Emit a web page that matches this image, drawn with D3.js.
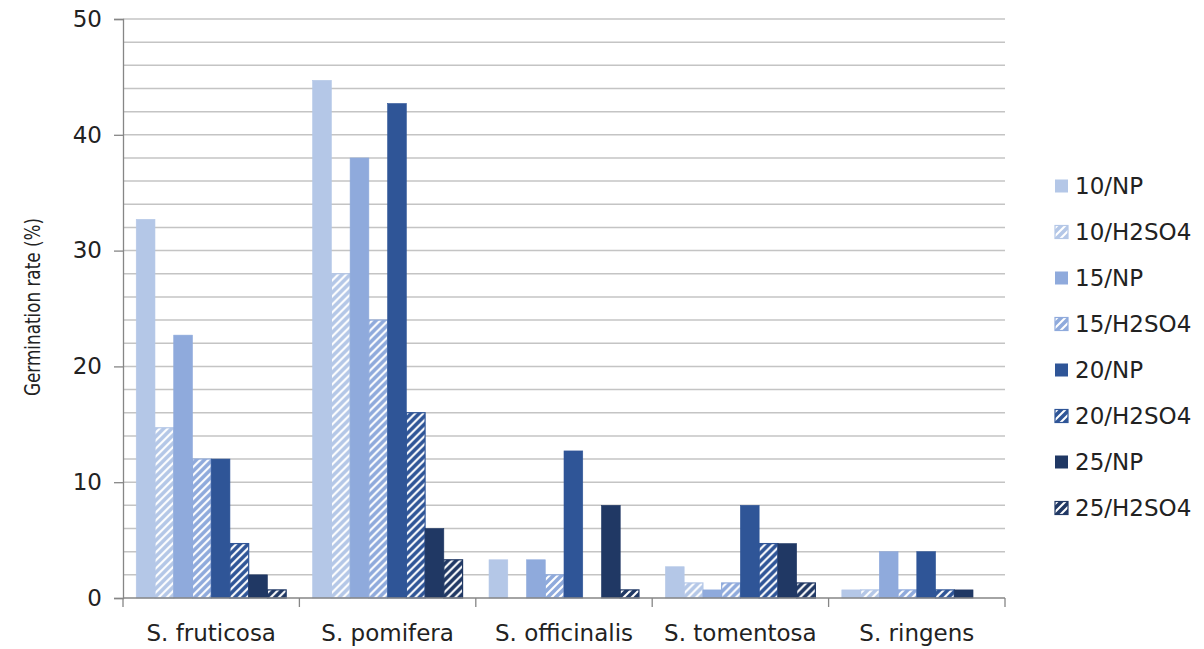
<!DOCTYPE html>
<html>
<head>
<meta charset="utf-8">
<script src="https://cdn.jsdelivr.net/npm/d3@7"></script>
<style>
  html, body { margin: 0; padding: 0; background: #fff; }
  svg { display: block; font-family: "DejaVu Sans", sans-serif; }
</style>
</head>
<body>
<svg id="chart" width="1204" height="649"></svg>
<script>
// Species groups along the x axis
const species = ["S. fruticosa", "S. pomifera", "S. officinalis", "S. tomentosa", "S. ringens"];

// Treatment series (temperature / pretreatment)
const seriesNames = ["10/NP", "10/H2SO4", "15/NP", "15/H2SO4", "20/NP", "20/H2SO4", "25/NP", "25/H2SO4"];
const seriesColors = ["#b4c7e7", "#b4c7e7", "#8faadc", "#8faadc", "#2f5597", "#2f5597", "#203864", "#203864"];
const seriesHatched = [false, true, false, true, false, true, false, true];

// Germination rate (%) per series, one value per species
const v10NP   = [32.7, 44.7, 3.3, 2.7, 0.7];
const v10H2   = [14.7, 28.0, 0.0, 1.3, 0.7];
const v15NP   = [22.7, 38.0, 3.3, 0.7, 4.0];
const v15H2   = [12.0, 24.0, 2.0, 1.3, 0.7];
const v20NP   = [12.0, 42.7, 12.7, 8.0, 4.0];
const v20H2   = [4.7, 16.0, 0.0, 4.7, 0.7];
const v25NP   = [2.0, 6.0, 8.0, 4.7, 0.7];
const v25H2   = [0.7, 3.3, 0.7, 1.3, 0.0];
const seriesValues = [v10NP, v10H2, v15NP, v15H2, v20NP, v20H2, v25NP, v25H2];

const yTicks = [0, 10, 20, 30, 40, 50];
const yGrid = d3.range(0, 51, 2);

const svg = d3.select("#chart");
const plotLeft = 123, plotRight = 1005, plotTop = 19, plotBottom = 598;

const x0 = d3.scaleBand().domain(species).range([plotLeft, plotRight])
  .paddingInner(0.15).paddingOuter(0.075);
const x1 = d3.scaleBand().domain(seriesNames).range([0, x0.bandwidth()]);
const y = d3.scaleLinear().domain([0, 50]).range([plotBottom, plotTop]);

// Diagonal hatch fills for the acid-treated series
const defs = svg.append("defs");
seriesNames.forEach((name, i) => {
  if (!seriesHatched[i]) return;
  const p = defs.append("pattern")
    .attr("id", "hatch" + i)
    .attr("patternUnits", "userSpaceOnUse")
    .attr("width", 8).attr("height", 8);
  p.append("rect").attr("width", 8).attr("height", 8).attr("fill", "#fff");
  p.append("path")
    .attr("d", "M-2,2 L2,-2 M0,8 L8,0 M6,10 L10,6")
    .attr("stroke", seriesColors[i])
    .attr("stroke-width", 3.6)
    .attr("stroke-linecap", "square");
});
const fillOf = i => seriesHatched[i] ? `url(#hatch${i})` : seriesColors[i];

// Horizontal gridlines
svg.append("g").selectAll("line").data(yGrid.filter(d => d > 0)).join("line")
  .attr("x1", plotLeft).attr("x2", plotRight)
  .attr("y1", d => y(d)).attr("y2", d => y(d))
  .attr("stroke", "#c4c4c4").attr("stroke-width", 1.5);

// Bars
const groups = svg.append("g").selectAll("g").data(species).join("g")
  .attr("transform", d => `translate(${x0(d)},0)`);
groups.selectAll("rect")
  .data((d, si) => seriesNames.map((n, i) => ({ i, v: seriesValues[i][si] })).filter(e => e.v > 0))
  .join("rect")
  .attr("x", d => x1(seriesNames[d.i]))
  .attr("width", x1.bandwidth())
  .attr("y", d => y(d.v))
  .attr("height", d => y(0) - y(d.v))
  .attr("fill", d => fillOf(d.i))
  .attr("stroke", d => seriesColors[d.i])
  .attr("stroke-width", d => seriesHatched[d.i] ? 1.2 : 0.6);

// Y axis
const yAxis = svg.append("g")
  .attr("transform", `translate(${plotLeft},0)`)
  .call(d3.axisLeft(y).tickValues(yTicks).tickSize(9).tickPadding(12));
yAxis.select(".domain").attr("stroke", "#868686").attr("stroke-width", 1.3);
yAxis.selectAll(".tick line").attr("stroke", "#868686").attr("stroke-width", 1.3);
yAxis.selectAll(".tick text").attr("font-size", 23).attr("fill", "#222")
  .attr("font-family", "DejaVu Sans");

// X axis with ticks between categories
const xAxisG = svg.append("g").attr("transform", `translate(0,${plotBottom})`);
xAxisG.append("line").attr("x1", plotLeft).attr("x2", plotRight)
  .attr("stroke", "#868686").attr("stroke-width", 1.3);
const boundaries = species.map(s => x0(s) - x0.step() * 0.075).concat([plotRight]);
xAxisG.selectAll("line.tick").data(boundaries).join("line").attr("class", "tick")
  .attr("x1", d => d).attr("x2", d => d).attr("y1", 0).attr("y2", 9)
  .attr("stroke", "#868686").attr("stroke-width", 1.3);
xAxisG.selectAll("text").data(species).join("text")
  .attr("x", d => x0(d) + x0.bandwidth() / 2)
  .attr("y", 43)
  .attr("text-anchor", "middle")
  .attr("font-size", 23).attr("fill", "#222")
  .text(d => d);

// Y axis title
svg.append("text")
  .attr("transform", "translate(40,307) rotate(-90)")
  .attr("text-anchor", "middle")
  .attr("font-family", "DejaVu Sans Condensed, DejaVu Sans")
  .attr("font-size", 21).attr("fill", "#222")
  .attr("textLength", 178).attr("lengthAdjust", "spacingAndGlyphs")
  .text("Germination rate (%)");

// Legend
const legend = svg.append("g").attr("transform", "translate(1055,186)");
const items = legend.selectAll("g").data(seriesNames).join("g")
  .attr("transform", (d, i) => `translate(0,${i * 46})`);
items.append("rect")
  .attr("x", 0).attr("y", -6.5).attr("width", 13).attr("height", 13)
  .attr("fill", (d, i) => fillOf(i))
  .attr("stroke", (d, i) => seriesColors[i])
  .attr("stroke-width", (d, i) => seriesHatched[i] ? 1.2 : 0);
items.append("text")
  .attr("x", 20).attr("y", 0).attr("dy", "0.36em")
  .attr("font-size", 23).attr("fill", "#222")
  .text(d => d);
</script>
</body>
</html>
